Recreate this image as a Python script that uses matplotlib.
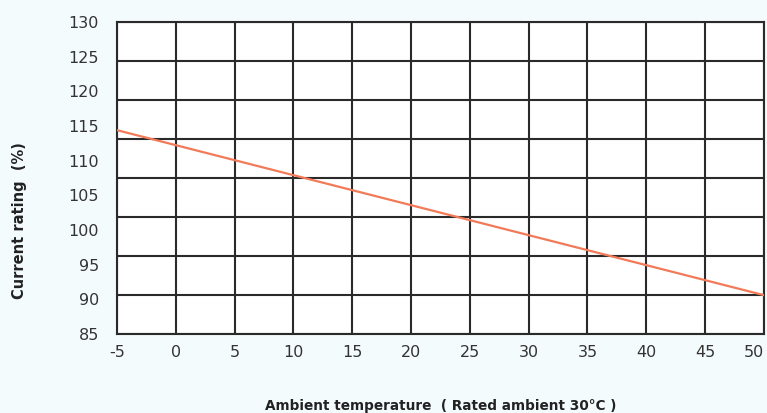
import numpy as np
import matplotlib
matplotlib.use('Agg')
import matplotlib.pyplot as plt

plt.rcParams['axes.unicode_minus'] = False

# derating curve
temp = [-5, 50]            # ambient temperature (degC)
rating = [114.4, 90.6]     # current rating (%)

x_ticks = [-5, 0, 5, 10, 15, 20, 25, 30, 35, 40, 45, 50]
y_ticks = [85, 90, 95, 100, 105, 110, 115, 120, 125, 130]
grid_rows = 8  # the printed chart has 8 rows of boxes, not one per label

fig = plt.figure(figsize=(7.67, 4.13), dpi=100, facecolor='#f4fbfd')
ax = fig.add_axes([0.1525, 0.1913, 0.8435, 0.7554])
ax.set_facecolor('white')

ax.plot(temp, rating, color='#f27a58', lw=1.6, zorder=3)

ax.set_xlim(x_ticks[0], x_ticks[-1])
ax.set_ylim(y_ticks[0], y_ticks[-1])
ax.set_xticks(x_ticks)
ax.set_yticks(y_ticks)

ax.grid(False)
for xv in x_ticks:
    ax.axvline(xv, color='#2a2a2a', lw=1.5, zorder=2)
for yv in np.linspace(y_ticks[0], y_ticks[-1], grid_rows + 1):
    ax.axhline(yv, color='#2a2a2a', lw=1.5, zorder=2)

for s in ax.spines.values():
    s.set_color('#2a2a2a')
    s.set_linewidth(1.5)

ax.tick_params(which='both', length=0, colors='#333333', labelsize=11.5)
ax.tick_params(axis='y', pad=13)
ax.tick_params(axis='x', pad=8)
ax.get_xticklabels()[-1].set_ha('right')

ax.set_ylabel('Current rating  (%)', fontsize=10.5, fontweight='semibold',
              color='#222222')
ax.yaxis.set_label_coords(-0.139, 0.365)
ax.set_xlabel('Ambient temperature  ( Rated ambient 30°C )', fontsize=9.8,
              fontweight='semibold', color='#222222', labelpad=28)

plt.savefig('out.png', dpi=100, facecolor=fig.get_facecolor())
